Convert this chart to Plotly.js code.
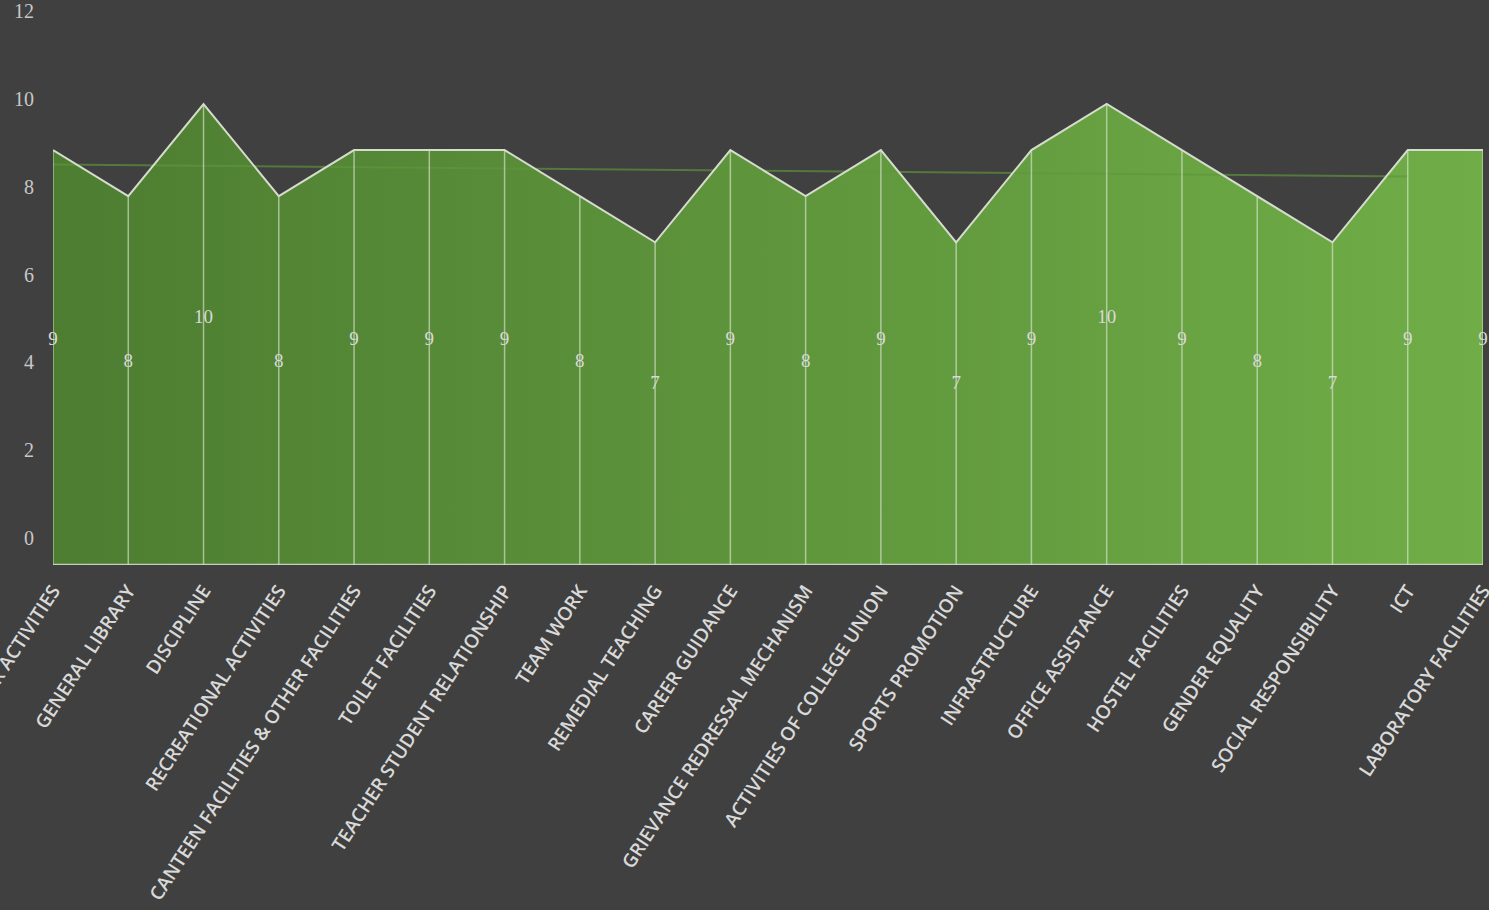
<!DOCTYPE html>
<html>
<head>
<meta charset="utf-8">
<script src="https://cdn.plot.ly/plotly-3.0.1.min.js"></script>
<style>html,body{margin:0;padding:0;background:#404040;}#chart{width:1489px;height:910px;}</style>
</head>
<body>
<div id="chart"></div>
<script>
const categories = [
  "CO-CURRICULAR ACTIVITIES", "GENERAL LIBRARY", "DISCIPLINE", "RECREATIONAL ACTIVITIES",
  "CANTEEN FACILITIES & OTHER FACILITIES", "TOILET FACILITIES", "TEACHER STUDENT RELATIONSHIP",
  "TEAM WORK", "REMEDIAL TEACHING", "CAREER GUIDANCE", "GRIEVANCE REDRESSAL MECHANISM",
  "ACTIVITIES OF COLLEGE UNION", "SPORTS PROMOTION", "INFRASTRUCTURE", "OFFICE ASSISTANCE",
  "HOSTEL FACILITIES", "GENDER EQUALITY", "SOCIAL RESPONSIBILITY", "ICT", "LABORATORY FACILITIES"
];
const scores = [9, 8, 10, 8, 9, 9, 9, 8, 7, 9, 8, 9, 7, 9, 10, 9, 8, 7, 9, 9];
const yTickValues = [0, 2, 4, 6, 8, 10, 12];

const xs = categories.map((_, i) => i);

// linear trendline (least squares over the data)
const n = scores.length;
const mx = xs.reduce((a, b) => a + b, 0) / n;
const my = scores.reduce((a, b) => a + b, 0) / n;
let sxy = 0, sxx = 0;
for (let i = 0; i < n; i++) { sxy += (xs[i] - mx) * (scores[i] - my); sxx += (xs[i] - mx) ** 2; }
const slope = sxy / sxx, intercept = my - slope * mx;
const trendX = [0, n - 2];
const trendY = trendX.map(x => intercept + slope * x);

// drop lines
const dropX = [], dropY = [];
xs.forEach((x, i) => { dropX.push(x, x, null); dropY.push(0, scores[i], null); });

const traces = [
  {
    x: xs, y: scores, type: 'scatter', mode: 'lines', fill: 'tozeroy',
    line: {width: 0, color: 'rgba(0,0,0,0)'},
    fillgradient: {type: 'horizontal', colorscale: [[0, '#4d7d31'], [1, '#70ad47']]},
    hoverinfo: 'skip', showlegend: false
  },
  {
    x: trendX, y: trendY, type: 'scatter', mode: 'lines',
    line: {color: 'rgba(95,150,60,0.65)', width: 2},
    hoverinfo: 'skip', showlegend: false
  },
  {
    x: dropX, y: dropY, type: 'scatter', mode: 'lines',
    line: {color: 'rgba(225,235,215,0.6)', width: 1.5},
    hoverinfo: 'skip', showlegend: false, cliponaxis: false
  },
  {
    x: [0, n - 1], y: [0, 0], type: 'scatter', mode: 'lines',
    line: {color: 'rgba(215,220,210,0.85)', width: 2.5},
    hoverinfo: 'skip', showlegend: false, cliponaxis: false
  },
  {
    x: xs, y: scores, type: 'scatter', mode: 'lines',
    line: {color: '#d5dccd', width: 2},
    hoverinfo: 'skip', showlegend: false, cliponaxis: false
  },
  {
    x: xs, y: scores.map(v => v / 2), text: scores.map(String), yaxis: 'y2',
    type: 'scatter', mode: 'text', textposition: 'middle center',
    textfont: {family: 'Liberation Serif, serif', size: 19, color: '#d9d9d9'},
    hoverinfo: 'skip', showlegend: false, cliponaxis: false
  }
];

const layout = {
  width: 1489, height: 910,
  paper_bgcolor: '#404040', plot_bgcolor: '#404040',
  margin: {l: 53, r: 6, t: 5, b: 345},
  showlegend: false,
  xaxis: {
    range: [0, n - 1], tickvals: xs, ticktext: categories, tickangle: -57,
    showgrid: false, zeroline: false, showline: false, ticks: '',
    tickfont: {family: 'Open Sans, sans-serif', size: 19, color: '#d9d9d9', weight: 600},
    ticklabelstandoff: 10, ticklabeloverflow: 'allow', fixedrange: true
  },
  yaxis: {
    range: [0, 560 / 46.1], showgrid: false, zeroline: false, showline: false,
    showticklabels: false, ticks: '', fixedrange: true
  },
  yaxis2: {
    overlaying: 'y', side: 'left', range: [-0.615, 12.137],
    tickvals: yTickValues, ticktext: yTickValues.map(String),
    showgrid: false, zeroline: false, showline: false, ticks: '',
    tickfont: {family: 'Liberation Serif, serif', size: 20, color: '#c8c8c8'},
    ticklabelstandoff: 18, ticklabeloverflow: 'allow', fixedrange: true
  }
};

Plotly.newPlot('chart', traces, layout, {staticPlot: true, displayModeBar: false});
</script>
</body>
</html>
